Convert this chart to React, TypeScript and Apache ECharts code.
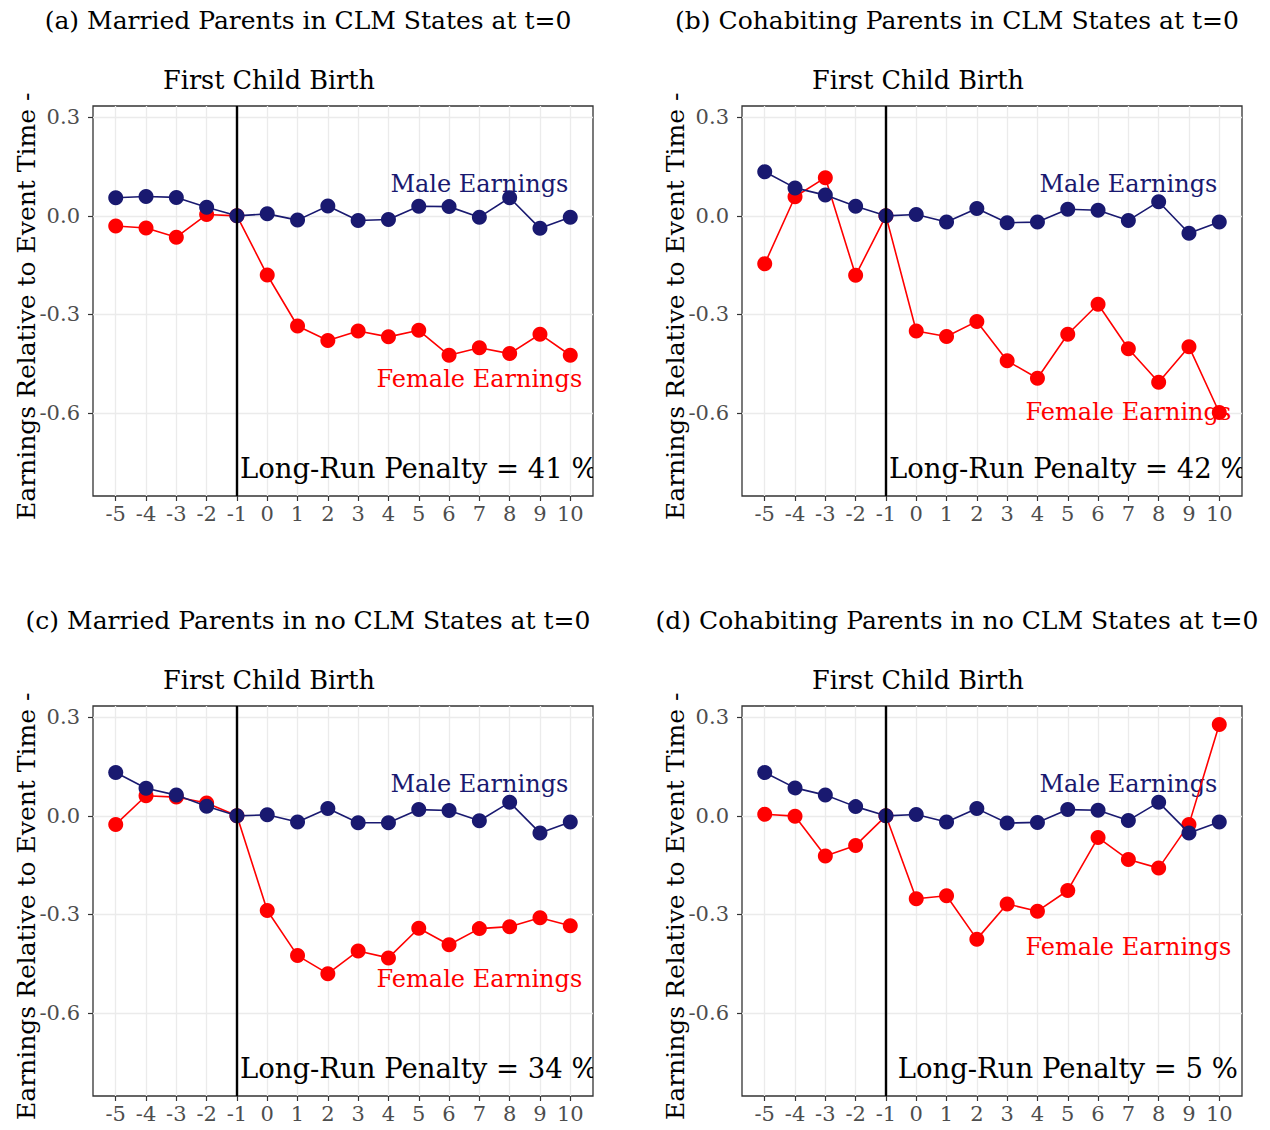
import React, { useEffect, useRef } from 'react';
import * as echarts from 'echarts';

// ---------- data ----------
const eventTime = [-5, -4, -3, -2, -1, 0, 1, 2, 3, 4, 5, 6, 7, 8, 9, 10];
const yTicks = [-0.6, -0.3, 0, 0.3];

const maleA = [0.055, 0.059, 0.056, 0.026, 0, 0.006, -0.013, 0.030, -0.014, -0.011, 0.029, 0.028, -0.004, 0.055, -0.038, -0.004];
const femaleA = [-0.031, -0.037, -0.065, 0.004, 0, -0.180, -0.335, -0.379, -0.350, -0.368, -0.348, -0.424, -0.401, -0.419, -0.360, -0.424];

const maleB = [0.134, 0.085, 0.063, 0.029, 0, 0.004, -0.019, 0.022, -0.021, -0.019, 0.020, 0.017, -0.014, 0.043, -0.053, -0.019];
const femaleB = [-0.146, 0.058, 0.116, -0.181, 0, -0.350, -0.367, -0.321, -0.441, -0.494, -0.360, -0.269, -0.404, -0.506, -0.398, -0.598];

const maleC = [0.132, 0.084, 0.063, 0.029, 0, 0.003, -0.019, 0.022, -0.021, -0.021, 0.019, 0.016, -0.015, 0.041, -0.052, -0.019];
const femaleC = [-0.026, 0.061, 0.057, 0.039, 0, -0.288, -0.425, -0.480, -0.411, -0.432, -0.342, -0.392, -0.343, -0.337, -0.310, -0.334];

const maleD = [0.132, 0.085, 0.063, 0.028, 0, 0.004, -0.019, 0.022, -0.022, -0.020, 0.019, 0.017, -0.014, 0.041, -0.052, -0.019];
const femaleD = [0.005, -0.001, -0.122, -0.090, 0, -0.252, -0.243, -0.375, -0.268, -0.290, -0.227, -0.066, -0.133, -0.159, -0.026, 0.278];

const panelTitles = [
  '(a) Married Parents in CLM States at t=0',
  '(b) Cohabiting Parents in CLM States at t=0',
  '(c) Married Parents in no CLM States at t=0',
  '(d) Cohabiting Parents in no CLM States at t=0',
];
const penaltyLabels = [
  'Long-Run Penalty = 41 %',
  'Long-Run Penalty = 42 %',
  'Long-Run Penalty = 34 %',
  'Long-Run Penalty = 5 %',
];
const eventLabel = 'First Child Birth';
const yTitle = 'Earnings Relative to Event Time -';
const maleLabel = 'Male Earnings';
const femaleLabel = 'Female Earnings';

const maleSeries = [maleA, maleB, maleC, maleD];
const femaleSeries = [femaleA, femaleB, femaleC, femaleD];

// ---------- layout / style ----------
const FONT = '"DejaVu Serif", serif';
const NAVY = '#191970';
const RED = '#FF0000';
const X_MIN = -5.75;
const X_MAX = 10.75;
const Y_MIN = -0.852;
const Y_MAX = 0.334;

const panels = [
  { left: 93, top: 106, titleX: 308, titleY: 20, ytX: 26 },
  { left: 742, top: 106, titleX: 957, titleY: 20, ytX: 675 },
  { left: 93, top: 706, titleX: 308, titleY: 620, ytX: 26 },
  { left: 742, top: 706, titleX: 957, titleY: 620, ytX: 675 },
];
const PW = 500;
const PH = 390;

// annotation anchor positions (data coords)
const maleLabelPos = [[7, 0.098], [7, 0.098], [7, 0.098], [7, 0.098]];
const femaleLabelPos = [[7, -0.495], [7, -0.598], [7, -0.495], [7, -0.398]];
const penaltyPos = [[5, -0.768], [5, -0.768], [5, -0.768], [5, -0.768]];

export default function App() {
  const ref = useRef<HTMLDivElement>(null);

  useEffect(() => {
    document.body.style.margin = '0';
    if (!ref.current) return;
    const chart = echarts.init(ref.current, undefined, { renderer: 'svg' });

    const grid = panels.map((p) => ({
      left: p.left,
      top: p.top,
      width: PW,
      height: PH,
      show: true,
      borderColor: '#333333',
      borderWidth: 1.3,
      backgroundColor: 'transparent',
      containLabel: false,
    }));

    const xAxis = panels.map((_, i) => ({
      type: 'value',
      gridIndex: i,
      min: X_MIN,
      max: X_MAX,
      position: 'bottom',
      axisLine: { show: false, onZero: false },
      axisTick: {
        show: true,
        inside: false,
        length: 5,
        lineStyle: { color: '#333333', width: 1.2 },
        customValues: eventTime,
      },
      axisLabel: {
        customValues: eventTime,
        fontFamily: FONT,
        fontSize: 21,
        color: '#4D4D4D',
        margin: 7,
        formatter: (v: number) => String(v),
      },
      splitLine: { show: true, lineStyle: { color: '#EBEBEB', width: 1.3 } },
    }));

    const yAxis = panels.map((_, i) => ({
      type: 'value',
      gridIndex: i,
      min: Y_MIN,
      max: Y_MAX,
      position: 'left',
      axisLine: { show: false, onZero: false },
      axisTick: {
        show: true,
        inside: false,
        length: 5,
        lineStyle: { color: '#333333', width: 1.2 },
        customValues: yTicks,
      },
      axisLabel: {
        customValues: yTicks,
        fontFamily: FONT,
        fontSize: 21,
        color: '#4D4D4D',
        margin: 13,
        formatter: (v: number) => (Math.abs(v) < 1e-9 ? '0.0' : v.toFixed(1)),
      },
      splitLine: { show: true, lineStyle: { color: '#EBEBEB', width: 1.3 } },
    }));

    const series: any[] = [];
    panels.forEach((_, i) => {
      const texts = [maleLabel, femaleLabel, penaltyLabels[i]];
      const colors = [NAVY, RED, '#000000'];
      const sizes = [24, 24, 27.5];
      series.push({
        type: 'custom',
        xAxisIndex: i,
        yAxisIndex: i,
        clip: true,
        z: 1,
        silent: true,
        data: [maleLabelPos[i], femaleLabelPos[i], penaltyPos[i]],
        renderItem: (params: any, api: any) => {
          const p = api.coord([api.value(0), api.value(1)]);
          const k = params.dataIndex;
          return {
            type: 'text',
            x: p[0],
            y: p[1],
            style: {
              text: texts[k],
              fill: colors[k],
              font: `${sizes[k]}px ${FONT}`,
              textAlign: 'center',
              textVerticalAlign: 'middle',
            },
          };
        },
      });
      series.push({
        type: 'line',
        xAxisIndex: i,
        yAxisIndex: i,
        z: 2,
        data: eventTime.map((t, k) => [t, femaleSeries[i][k]]),
        symbol: 'circle',
        symbolSize: 15,
        itemStyle: { color: RED },
        lineStyle: { color: RED, width: 1.6 },
      });
      series.push({
        type: 'line',
        xAxisIndex: i,
        yAxisIndex: i,
        z: 3,
        data: eventTime.map((t, k) => [t, maleSeries[i][k]]),
        symbol: 'circle',
        symbolSize: 15,
        itemStyle: { color: NAVY },
        lineStyle: { color: NAVY, width: 1.6 },
        markLine: {
          silent: true,
          symbol: 'none',
          label: { show: false },
          lineStyle: { color: '#000000', width: 2.4, type: 'solid' },
          data: [{ xAxis: -1 }],
        },
      });
    });

    const graphic: any[] = [];
    panels.forEach((p, i) => {
      graphic.push({
        type: 'text',
        x: p.titleX,
        y: p.titleY,
        style: {
          text: panelTitles[i],
          fill: '#000000',
          font: `25px ${FONT}`,
          textAlign: 'center',
          textVerticalAlign: 'middle',
        },
      });
      graphic.push({
        type: 'text',
        x: p.left + 176,
        y: p.top - 26,
        style: {
          text: eventLabel,
          fill: '#000000',
          font: `25.5px ${FONT}`,
          textAlign: 'center',
          textVerticalAlign: 'middle',
        },
      });
      graphic.push({
        type: 'text',
        x: p.ytX,
        y: p.top + 414,
        rotation: Math.PI / 2,
        style: {
          text: yTitle,
          fill: '#000000',
          font: `25px ${FONT}`,
          textAlign: 'left',
          textVerticalAlign: 'middle',
        },
      });
    });

    chart.setOption({
      animation: false,
      backgroundColor: '#FFFFFF',
      grid,
      xAxis,
      yAxis,
      series,
      graphic,
    });

    return () => {
      chart.dispose();
    };
  }, []);

  return <div ref={ref} style={{ width: 1270, height: 1130 }} />;
}
